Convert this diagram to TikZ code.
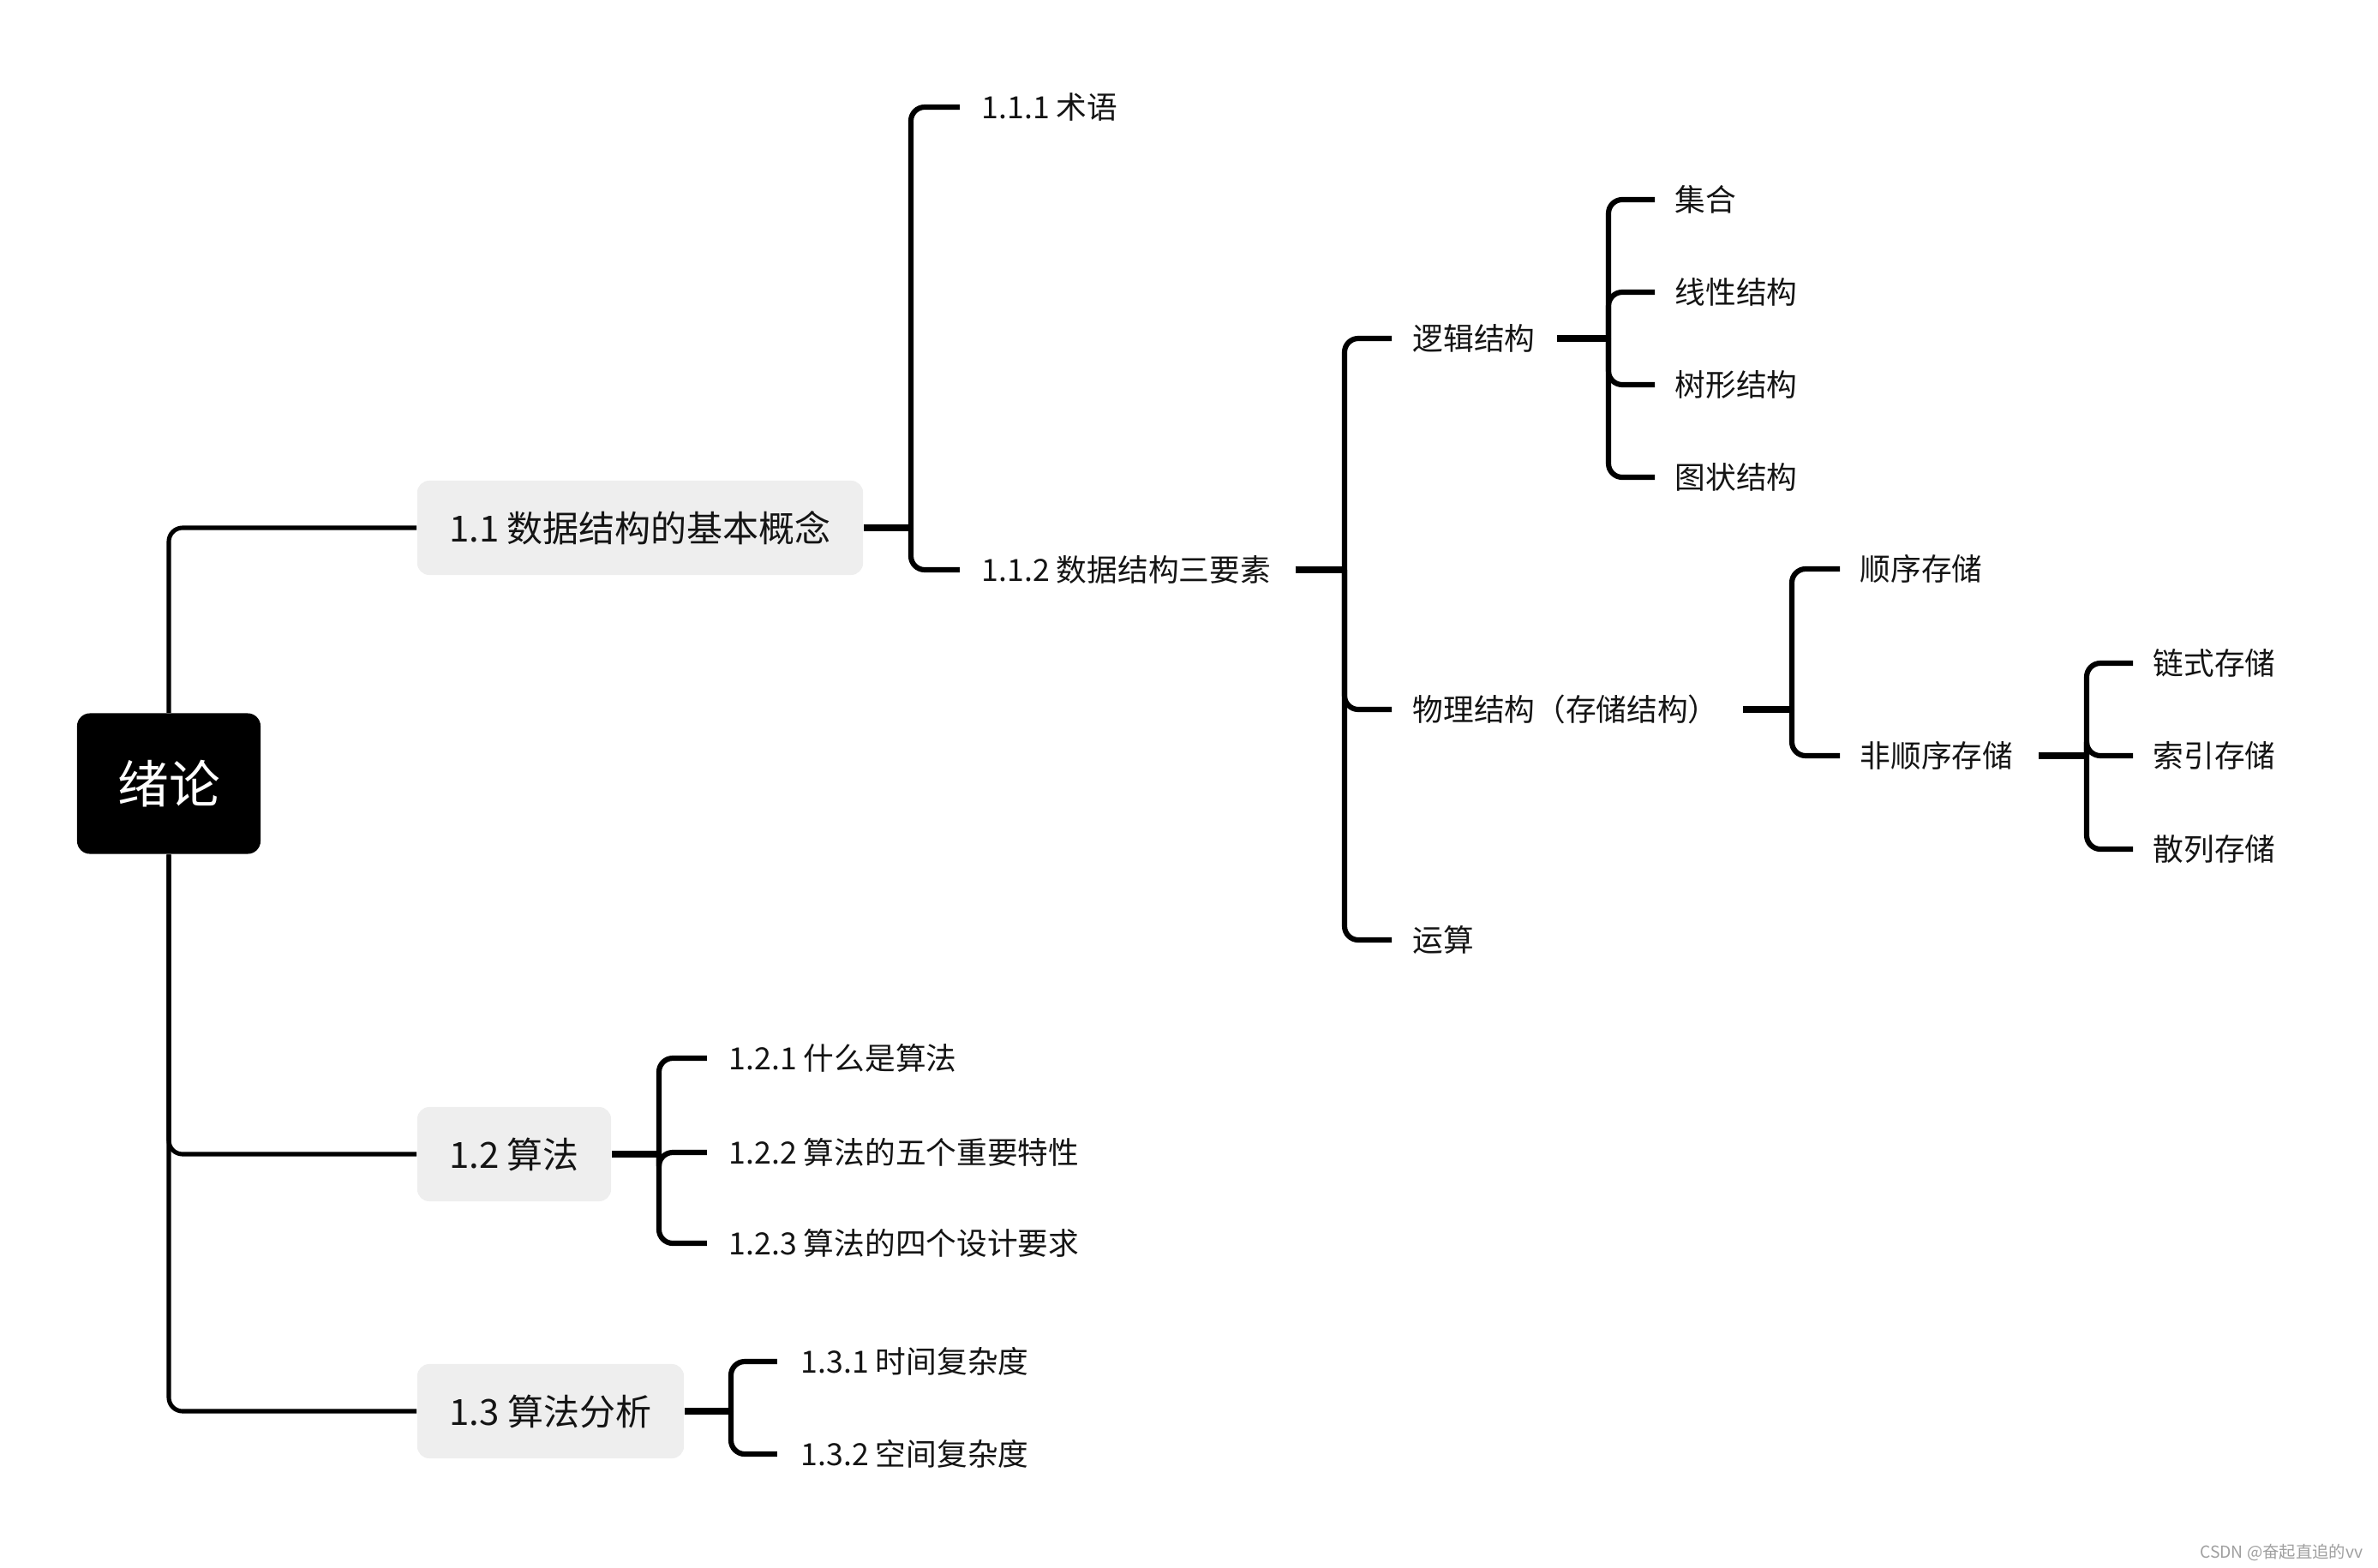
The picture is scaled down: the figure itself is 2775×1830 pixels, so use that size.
\documentclass[tikz,border=0pt]{standalone}
\usepackage{fontspec}
\setmainfont{Noto Sans CJK SC}
\definecolor{boxgray}{RGB}{238,238,238}
\definecolor{inkc}{RGB}{20,20,20}
\begin{document}
\begin{tikzpicture}[x=0.01cm,y=-0.01cm,
  every node/.style={font=\fontsize{10.15}{12}\selectfont, inner sep=0pt, text=inkc},
  leaf/.style={anchor=west},
  topic/.style={fill=boxgray, rounded corners=0.14cm, minimum height=1.1cm, font=\fontsize{11.95}{14}\selectfont},
  rootbox/.style={fill=black, rounded corners=0.15cm, minimum width=2.14cm, minimum height=1.64cm, text=white, font=\fontsize{17}{20}\selectfont},
  trunk/.style={line width=1.45pt, rounded corners=0.16cm, draw=black},
  branch/.style={line width=1.75pt, rounded corners=0.16cm, draw=black},
  stub/.style={line width=2.3pt, draw=black},
]
\useasboundingbox (0,0) rectangle (2775,1830);

% root and main topics
\node[rootbox] (root) at (197,914.5) {绪论};
\node[topic, minimum width=5.2cm] (n11) at (747,616) {1.1 数据结构的基本概念};
\node[topic, minimum width=2.26cm] (n12) at (600,1347) {1.2 算法};
\node[topic, minimum width=3.11cm] (n13) at (642.5,1647) {1.3 算法分析};

\draw[trunk] (root.north) |- (n11.west);
\draw[trunk] (root.south) |- (n12.west);
\draw[trunk] (root.south) |- (n13.west);

% 1.1 children
\node[leaf] (t111) at (1145,125) {1.1.1 术语};
\node[leaf] (t112) at (1145,665) {1.1.2 数据结构三要素};
\coordinate (b11) at (1063,616);
\draw[stub] (n11.east) -- (b11);
\draw[branch] (b11) |- ([xshift=-0.25cm]t111.west);
\draw[branch] (b11) |- ([xshift=-0.25cm]t112.west);

% 1.1.2 children
\node[leaf] (ljjg) at (1648,395) {逻辑结构};
\node[leaf] (wljg) at (1648,828) {物理结构（存储结构）};
\node[leaf] (ys) at (1648,1097) {运算};
\coordinate (b112) at (1569,665);
\draw[stub] ([xshift=0.28cm]t112.east) -- (b112);
\draw[branch] (b112) |- ([xshift=-0.24cm]ljjg.west);
\draw[branch] (b112) |- ([xshift=-0.24cm]wljg.west);
\draw[branch] (b112) |- ([xshift=-0.24cm]ys.west);

% logical structure children
\node[leaf] (jh) at (1954,233) {集合};
\node[leaf] (xx) at (1954,341) {线性结构};
\node[leaf] (sx) at (1954,449) {树形结构};
\node[leaf] (tz) at (1954,557) {图状结构};
\coordinate (bl) at (1877,395);
\draw[stub] ([xshift=0.25cm]ljjg.east) -- (bl);
\draw[branch] (bl) |- ([xshift=-0.23cm]jh.west);
\draw[branch] (bl) |- ([xshift=-0.23cm]xx.west);
\draw[branch] (bl) |- ([xshift=-0.23cm]sx.west);
\draw[branch] (bl) |- ([xshift=-0.23cm]tz.west);

% physical structure children
\node[leaf] (sxcc) at (2170,664) {顺序存储};
\node[leaf] (fsx) at (2170,882) {非顺序存储};
\coordinate (bw) at (2091,828);
\draw[stub] ([xshift=0.28cm]wljg.east) -- (bw);
\draw[branch] (bw) |- ([xshift=-0.23cm]sxcc.west);
\draw[branch] (bw) |- ([xshift=-0.23cm]fsx.west);

% non-sequential children
\node[leaf] (lscc) at (2512,774) {链式存储};
\node[leaf] (sycc) at (2512,882) {索引存储};
\node[leaf] (slcc) at (2512,991) {散列存储};
\coordinate (bf) at (2435,882);
\draw[stub] ([xshift=0.29cm]fsx.east) -- (bf);
\draw[branch] (bf) |- ([xshift=-0.23cm]lscc.west);
\draw[branch] (bf) |- ([xshift=-0.23cm]sycc.west);
\draw[branch] (bf) |- ([xshift=-0.23cm]slcc.west);

% 1.2 children
\node[leaf] (t121) at (850,1235) {1.2.1 什么是算法};
\node[leaf] (t122) at (850,1345) {1.2.2 算法的五个重要特性};
\node[leaf] (t123) at (850,1451) {1.2.3 算法的四个设计要求};
\coordinate (b12) at (769,1347);
\draw[stub] (n12.east) -- (b12);
\draw[branch] (b12) |- ([xshift=-0.25cm]t121.west);
\draw[branch] (b12) |- ([xshift=-0.25cm]t122.west);
\draw[branch] (b12) |- ([xshift=-0.25cm]t123.west);

% 1.3 children
\node[leaf] (t131) at (934,1589) {1.3.1 时间复杂度};
\node[leaf] (t132) at (934,1697) {1.3.2 空间复杂度};
\coordinate (b13) at (853,1647);
\draw[stub] (n13.east) -- (b13);
\draw[branch] (b13) |- ([xshift=-0.27cm]t131.west);
\draw[branch] (b13) |- ([xshift=-0.27cm]t132.west);

% watermark
\node[anchor=east, text=gray!75, font=\fontsize{5.5}{6}\selectfont] (wm) at (2758,1812) {CSDN @奋起直追的vv};
\end{tikzpicture}
\end{document}
